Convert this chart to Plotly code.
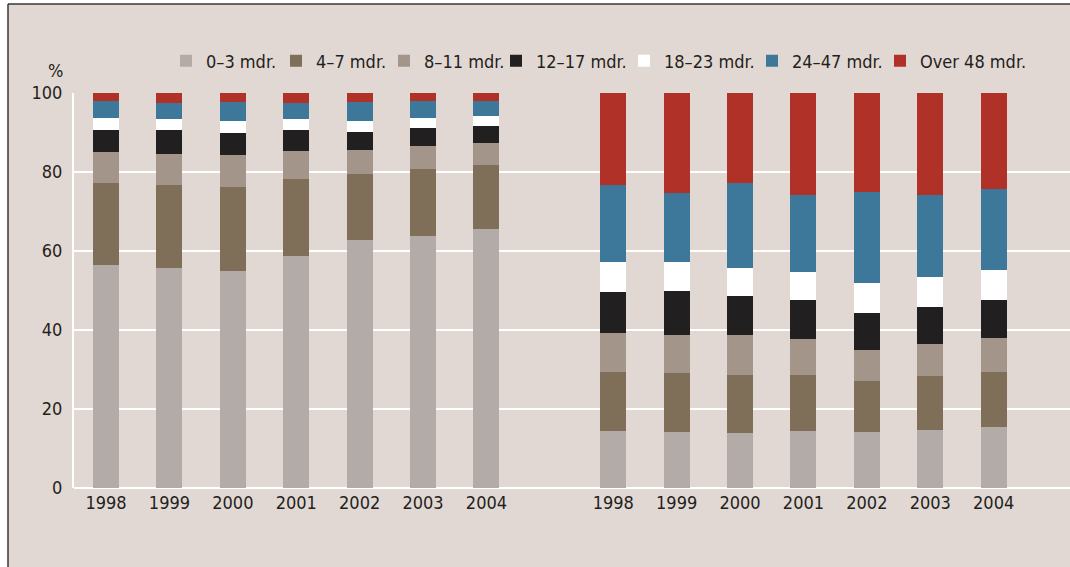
import plotly.graph_objects as go

years = ["1998", "1999", "2000", "2001", "2002", "2003", "2004"]
series_names = ["0–3 mdr.", "4–7 mdr.", "8–11 mdr.", "12–17 mdr.", "18–23 mdr.", "24–47 mdr.", "Over 48 mdr."]
colors = ["#B3ABA7", "#7F6F59", "#A39589", "#221F20", "#FFFFFF", "#3D7799", "#B03128"]

# left group (7 years)
left_0_3 = [56.4, 55.6, 54.9, 58.7, 62.9, 63.7, 65.5]
left_4_7 = [20.8, 21.1, 21.3, 19.5, 16.6, 17.1, 16.3]
left_8_11 = [7.8, 7.8, 8.1, 7.1, 6.0, 5.8, 5.5]
left_12_17 = [5.6, 6.1, 5.5, 5.3, 4.6, 4.5, 4.3]
left_18_23 = [3.0, 2.8, 3.1, 2.8, 2.8, 2.5, 2.5]
left_24_47 = [4.3, 4.0, 4.7, 4.0, 4.7, 4.3, 3.8]
left_over48 = [2.1, 2.6, 2.4, 2.6, 2.4, 2.1, 2.1]

# right group (7 years)
right_0_3 = [14.5, 14.2, 13.9, 14.5, 14.2, 14.7, 15.5]
right_4_7 = [14.8, 14.9, 14.7, 14.1, 12.9, 13.6, 13.8]
right_8_11 = [9.9, 9.6, 10.1, 9.0, 7.8, 8.1, 8.6]
right_12_17 = [10.5, 11.3, 9.8, 10.1, 9.3, 9.3, 9.6]
right_18_23 = [7.6, 7.3, 7.3, 7.1, 7.8, 7.8, 7.8]
right_24_47 = [19.4, 17.4, 21.4, 19.4, 23.0, 20.7, 20.4]
right_over48 = [23.3, 25.3, 22.8, 25.8, 25.0, 25.8, 24.3]

y_ticks = [0, 20, 40, 60, 80, 100]

left_series = [left_0_3, left_4_7, left_8_11, left_12_17, left_18_23, left_24_47, left_over48]
right_series = [right_0_3, right_4_7, right_8_11, right_12_17, right_18_23, right_24_47, right_over48]

# slot positions: left group 0..6, gap at 7, right group 8..14
x_pos = list(range(len(years))) + [len(years) + 1 + i for i in range(len(years))]
tick_text = years + years

FONT = "DejaVu Sans Condensed, DejaVu Sans, sans-serif"
TXT = "#231F20"
BG = "#E2D8D3"

W, H = 1070, 567
L, R, T, B = 74, 0, 93, 79
pw, ph = W - L - R, H - T - B


def px_x(p):
    return (p - L) / pw


def px_y(p):
    return (H - B - p) / ph


# legend swatch centre positions (pixels), one legend per series
legend_px = [186, 296, 404, 516, 644, 772, 900]

fig = go.Figure()
legend_layouts = {}
for i, (name, col, lv, rv) in enumerate(zip(series_names, colors, left_series, right_series)):
    lname = "legend" if i == 0 else f"legend{i + 1}"
    fig.add_trace(go.Bar(
        x=x_pos, y=lv + rv, name=name,
        marker=dict(color=col, line=dict(width=0)),
        width=0.41,
        legend=lname,
    ))
    legend_layouts[lname] = dict(
        orientation="h",
        x=px_x(legend_px[i] - 20), xanchor="left",
        y=px_y(61), yanchor="middle",
        bgcolor="rgba(0,0,0,0)",
        borderwidth=0,
        font=dict(family=FONT, size=18, color=TXT),
        itemclick=False, itemdoubleclick=False,
    )

fig.update_layout(
    width=W, height=H,
    margin=dict(l=L, r=R, t=T, b=B, pad=0, autoexpand=False),
    barmode="stack",
    bargap=0,
    paper_bgcolor=BG,
    plot_bgcolor="rgba(0,0,0,0)",
    font=dict(family=FONT, size=18, color=TXT),
    showlegend=True,
    xaxis=dict(
        range=[-0.505, -0.505 + pw / 63.4],
        tickmode="array", tickvals=x_pos, ticktext=tick_text,
        showgrid=False, zeroline=False,
        showline=False,
        ticks="", ticklabelstandoff=2,
        tickfont=dict(family=FONT, size=18, color=TXT),
    ),
    yaxis=dict(
        range=[0, 100],
        tickmode="array", tickvals=y_ticks,
        showgrid=True, gridcolor="#FFFFFF", gridwidth=2,
        zeroline=False,
        showline=True, linecolor="#FFFFFF", linewidth=2,
        ticks="", ticklabelstandoff=6,
        tickfont=dict(family=FONT, size=18, color=TXT),
    ),
    shapes=[
        dict(type="rect", xref="paper", yref="paper", x0=px_x(-5), x1=px_x(8), y0=px_y(H + 5), y1=px_y(-5),
             fillcolor="#FFFFFF", line=dict(width=0), layer="below"),
        dict(type="rect", xref="paper", yref="paper", x0=px_x(-5), x1=px_x(W + 5), y0=px_y(4), y1=px_y(-5),
             fillcolor="#FFFFFF", line=dict(width=0), layer="below"),
        dict(type="line", xref="paper", yref="paper", x0=px_x(8), x1=px_x(W + 5), y0=px_y(4), y1=px_y(4),
             line=dict(color="#3A3636", width=1.5)),
        dict(type="line", xref="paper", yref="paper", x0=px_x(8), x1=px_x(8), y0=px_y(4), y1=px_y(H + 5),
             line=dict(color="#3A3636", width=1.5)),
        dict(type="line", xref="paper", yref="paper", x0=0, x1=1, y0=0, y1=0,
             line=dict(color="#FFFFFF", width=2), layer="below"),
    ],
    annotations=[
        dict(text="%", xref="paper", yref="paper", x=px_x(65), y=px_y(71),
             xanchor="right", yanchor="middle", showarrow=False,
             font=dict(family=FONT, size=18, color=TXT)),
    ],
    **legend_layouts,
)

fig.write_html(
    "out.html",
    config={"displayModeBar": False},
    post_script=(
        "document.documentElement.style.overflow='hidden';"
        "document.body.style.overflow='hidden';"
        "document.body.style.margin='0';"
    ),
)
